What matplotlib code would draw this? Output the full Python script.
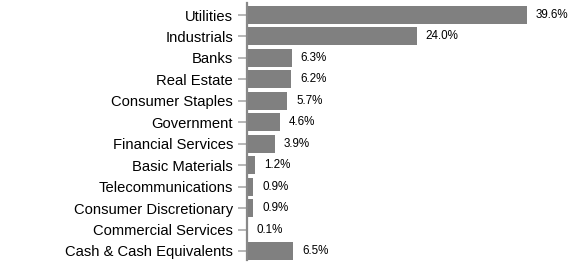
import matplotlib as mpl

mpl.use("Agg")

import matplotlib.pyplot as plt

SECTORS = [
    "Utilities",
    "Industrials",
    "Banks",
    "Real Estate",
    "Consumer Staples",
    "Government",
    "Financial Services",
    "Basic Materials",
    "Telecommunications",
    "Consumer Discretionary",
    "Commercial Services",
    "Cash & Cash Equivalents",
]
WEIGHTS = [39.6, 24.0, 6.3, 6.2, 5.7, 4.6, 3.9, 1.2, 0.9, 0.9, 0.1, 6.5]

mpl.rcParams["font.family"] = ["Liberation Sans", "DejaVu Sans"]

fig = plt.figure(figsize=(5.87, 2.63), dpi=100, facecolor="white")
ax = fig.add_axes([247 / 587, 3 / 263, 340 / 587, 257 / 263])

y = list(range(len(SECTORS)))
ax.barh(y, WEIGHTS, height=0.84, color="#808080", edgecolor="none")

for yi, v in zip(y, WEIGHTS):
    ax.text(v + 1.3, yi, f"{v:.1f}%", va="center", ha="left", fontsize=8.4, color="#000000")

ax.set_xlim(0, 48.1)
ax.set_ylim(11.42, -0.56)
ax.set_yticks(y)
ax.set_yticklabels(SECTORS, fontsize=10.6, color="#000000")
ax.set_xticks([])

for side in ("top", "right", "bottom"):
    ax.spines[side].set_visible(False)
ax.spines["left"].set_color("#888888")
ax.spines["left"].set_linewidth(1.6)
ax.tick_params(axis="y", length=6.5, width=1.2, color="#aaaaaa", pad=3.5)

fig.savefig("out.png", dpi=100)
